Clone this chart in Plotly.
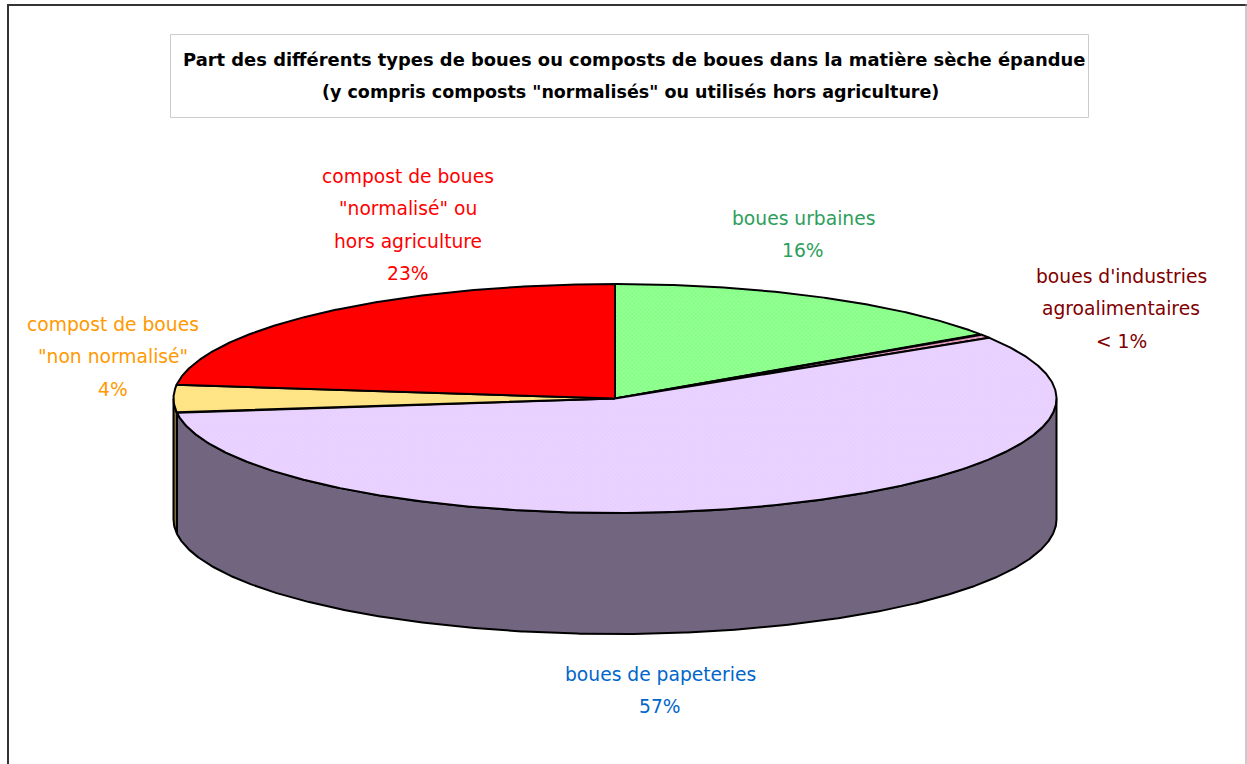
import numpy as np
import plotly.graph_objects as go

# --- data (clockwise from 12 o'clock) ---
categories = ["boues urbaines", "boues d'industries agroalimentaires", "boues de papeteries",
              'compost de boues "non normalisé"', 'compost de boues "normalisé" ou hors agriculture']
shares = [15.5, 0.6, 56.9, 3.9, 23.1]
top_colors = ["#99FF99", "#E8A8C8", "#EAD4FF", "#FFE68A", "#FF0000"]
dither_fg = ["#66FF66", "#CC6699", "#E2C8FF", "#FFDD77", None]
side_colors = ["#4A804A", "#745464", "#72657F", "#807140", "#800000"]
label_lines = [["boues urbaines", "16%"],
               ["boues d'industries", "agroalimentaires", "< 1%"],
               ["boues de papeteries", "57%"],
               ["compost de boues", '"non normalisé"', "4%"],
               ["compost de boues", '"normalisé" ou', "hors agriculture", "23%"]]
label_colors = ["#2E9E5B", "#800000", "#0066CC", "#FF9900", "#FF0000"]
label_anchor = [(803, 218), (1121, 276), (660, 674), (113, 324), (408, 176)]
title_lines = ["Part des différents types de boues ou composts de boues dans la matière sèche épandue",
               '(y compris composts "normalisés" ou utilisés hors agriculture)']
title_center = [634, 630]

# --- projection of the tilted pie onto the page ---
CX, CY, RX, RY, DEPTH = 615, 398.5, 441.5, 114.5, 121
LABEL_FONT = "DejaVu Sans"
TITLE_FONT = "DejaVu Sans"


def rim(a0, a1, dy=0.0):
    n = max(2, int(abs(a1 - a0) * 3) + 2)
    t = np.radians(np.linspace(a0, a1, n))
    return CX + RX * np.sin(t), CY - RY * np.cos(t) + dy


fig = go.Figure()
edges = np.concatenate([[0], np.cumsum(shares)]) / sum(shares) * 360


def poly(x, y, fill, fg=None):
    kw = {}
    if fg:
        kw["fillpattern"] = dict(shape="x", size=3, solidity=0.5, fgcolor=fg, bgcolor=fill)
    fig.add_trace(go.Scatter(x=x, y=y, mode="lines", fill="toself", fillcolor=fill,
                             line=dict(color="black", width=2), hoverinfo="skip",
                             showlegend=False, **kw))


# visible wall: lower half of the rim
for i in range(len(shares)):
    a0, a1 = max(edges[i], 90), min(edges[i + 1], 270)
    if a1 > a0:
        x, y = rim(a0, a1)
        xb, yb = rim(a1, a0, DEPTH)
        poly(np.r_[x, xb, x[0]], np.r_[y, yb, y[0]], side_colors[i])

# top face
for i in range(len(shares)):
    x, y = rim(edges[i], edges[i + 1])
    poly(np.r_[CX, x, CX], np.r_[CY, y, CY], top_colors[i], dither_fg[i])

annotations = []
for lines, color, (ax, ay) in zip(label_lines, label_colors, label_anchor):
    for k, line in enumerate(lines):
        annotations.append(dict(x=ax, y=ay + k * 32.5, text=line, showarrow=False,
                                xanchor="center", yanchor="middle",
                                font=dict(family=LABEL_FONT, size=18.7, color=color)))
for k, line in enumerate(title_lines):
    annotations.append(dict(x=title_center[k], y=59 + k * 33, text="<b>" + line + "</b>", showarrow=False,
                            xanchor="center", yanchor="middle",
                            font=dict(family=TITLE_FONT, size=17.9 if k == 0 else 17.5, color="black")))

shapes = [
    dict(type="line", x0=8, x1=8, y0=4, y1=764, line=dict(color="#333333", width=2)),
    dict(type="line", x0=8, x1=1247, y0=5, y1=5, line=dict(color="#333333", width=2)),
    dict(type="line", x0=1246, x1=1246, y0=4, y1=764, line=dict(color="#999999", width=1)),
    dict(type="rect", x0=170.5, x1=1088.5, y0=34.5, y1=117.5, line=dict(color="#CCCCCC", width=1)),
]

fig.update_layout(
    width=1247, height=764, margin=dict(l=0, r=0, t=0, b=0),
    paper_bgcolor="white", plot_bgcolor="white",
    xaxis=dict(range=[0, 1247], visible=False, fixedrange=True),
    yaxis=dict(range=[764, 0], visible=False, fixedrange=True),
    annotations=annotations, shapes=shapes, showlegend=False,
)
fig.write_html("out.html", config={"displayModeBar": False},
               post_script="document.body.style.margin='0';document.body.style.overflow='hidden';")
